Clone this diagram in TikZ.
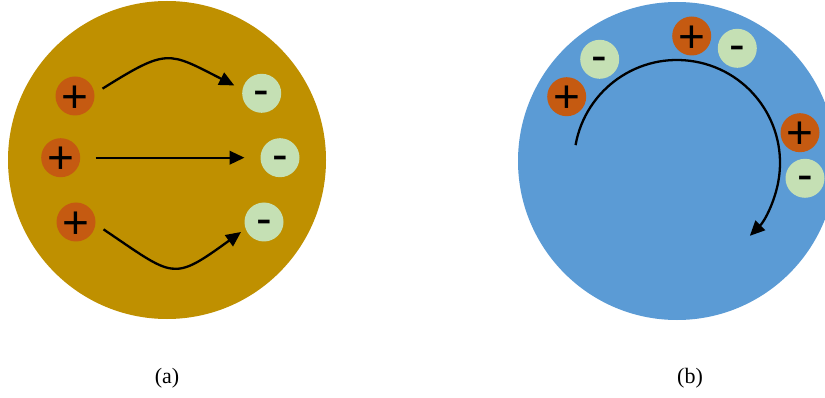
\documentclass[tikz,border=0pt]{standalone}
\usepackage{fontspec}
\setmainfont{Liberation Serif}
\newfontfamily\signfont{Liberation Sans}
\usetikzlibrary{arrows.meta}
\definecolor{gold}{HTML}{BF9000}
\definecolor{sky}{HTML}{5B9BD5}
\definecolor{posc}{HTML}{C55A11}
\definecolor{negc}{HTML}{C5E0B4}
\newcommand\plusglyph{\signfont\fontsize{46}{46}\selectfont\raisebox{-.35em}{+}}
\newcommand\minusglyph{\signfont\fontsize{47}{47}\selectfont\raisebox{-.265em}{-}}
\begin{document}
\begin{tikzpicture}[x=1pt,y=1pt,
  charge/.style={circle, minimum size=39pt, inner sep=0pt, outer sep=9pt, text height=0pt, text depth=0pt},
  poschg/.style={charge, fill=posc},
  negchg/.style={charge, fill=negc},
  conn/.style={line width=2.3pt, -{Triangle[length=15pt,width=13.5pt]}},
  captext/.style={font=\fontsize{22}{22}\selectfont}]
\useasboundingbox (0,0) rectangle (825,-398);
\clip (0,0) rectangle (825,-398);
\fill[white] (0,0) rectangle (825,-398);
% panel (a)
\node[circle, fill=gold, minimum size=318pt, inner sep=0pt] (A) at (167,-160) {};
\node[poschg] (p1) at (75,-96) {\plusglyph};
\node[poschg] (p2) at (60.7,-157.7) {\plusglyph};
\node[poschg] (p3) at (76,-222) {\plusglyph};
\node[negchg] (m1) at (261.7,-93.3) {\minusglyph};
\node[negchg] (m2) at (280,-157.7) {\minusglyph};
\node[negchg] (m3) at (264,-222) {\minusglyph};
\draw[conn] (p1.15) .. controls +(65.3,40.8) and +(-66.4,33.8) .. (m1.164);
\draw[conn, shorten <=6.5pt, shorten >=7pt] (p2) -- (m2);
\draw[conn, shorten >=-3.5pt] (p3.-15) .. controls +(71.3,-48.1) and +(-66.4,-48.1) .. (m3.205);
\node[captext] (la) at (167,-378) {(a)};
% panel (b)
\node[circle, fill=sky, minimum size=318pt, inner sep=0pt] (B) at (677,-161) {};
\node[poschg] (q1) at (566.7,-96.7) {\plusglyph};
\node[negchg] (n1) at (599.7,-59.3) {\minusglyph};
\node[poschg] (q2) at (691.7,-36) {\plusglyph};
\node[negchg] (n2) at (737.3,-48.3) {\minusglyph};
\node[poschg] (q3) at (800,-132.7) {\plusglyph};
\node[negchg] (n3) at (805,-178.3) {\minusglyph};
\coordinate (c) at (677,-163);
\draw[conn] (c) ++(170:103) arc[start angle=170, end angle=-45, radius=103];
\node[captext] (lb) at (690,-378) {(b)};
\end{tikzpicture}
\end{document}
